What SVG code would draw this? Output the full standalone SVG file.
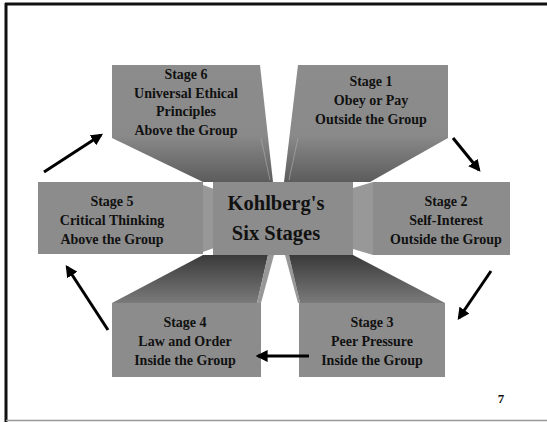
<svg xmlns="http://www.w3.org/2000/svg" width="547" height="422" viewBox="0 0 547 422">
<style>
.face{fill:#8c8c8c}
.side{fill:#989898}
.t{font-family:"Liberation Serif","Times New Roman",serif;font-weight:bold;font-size:14px;fill:#111;text-anchor:middle}
.title{font-size:20.5px}
.arr{stroke:#000;stroke-width:3;fill:none;marker-end:url(#ah)}
</style>
<defs>
<linearGradient id="gDown" x1="0" y1="0" x2="0" y2="1">
<stop offset="0" stop-color="#8c8c8c"/>
<stop offset="0.6" stop-color="#8a8a8a"/>
<stop offset="1" stop-color="#5c5c5c"/>
</linearGradient>
<linearGradient id="gUp" x1="0" y1="0" x2="0" y2="1">
<stop offset="0" stop-color="#3a3a3a"/>
<stop offset="1" stop-color="#7a7a7a"/>
</linearGradient>
<marker id="ah" viewBox="0 0 10 10" refX="8" refY="5" markerWidth="4" markerHeight="4" orient="auto" markerUnits="strokeWidth">
<path d="M0,0 L10,5 L0,10 z" fill="#000"/>
</marker>
</defs>
<rect x="0" y="0" width="547" height="422" fill="#fff"/>
<g id="frame">
<line x1="5" y1="4" x2="547" y2="4" stroke="#111" stroke-width="3"/>
<line x1="6" y1="3" x2="6" y2="422" stroke="#111" stroke-width="3"/>
<line x1="6" y1="420.5" x2="547" y2="420.5" stroke="#999" stroke-width="1.5"/>
</g>
<g id="stage6">
<polygon points="112,65 260,65 273,182 203,182 112,138" fill="url(#gDown)"/>
<line x1="261" y1="138" x2="270" y2="180" stroke="#a8a8a8" stroke-width="0.7"/>
<text class="t" x="186" y="79">Stage 6</text>
<text class="t" x="186" y="98">Universal Ethical</text>
<text class="t" x="186" y="116">Principles</text>
<text class="t" x="186" y="135">Above the Group</text>
</g>
<g id="stage1">
<polygon points="298,65 448,65 448,138 370,182 284,182" fill="url(#gDown)"/>
<line x1="298" y1="138" x2="289" y2="180" stroke="#a8a8a8" stroke-width="0.7"/>
<text class="t" x="371" y="86">Stage 1</text>
<text class="t" x="371" y="105">Obey or Pay</text>
<text class="t" x="371" y="124">Outside the Group</text>
</g>
<g id="stage5">
<polygon class="side" points="203,185 214,189 214,248 203,252"/>
<rect class="face" x="38" y="182" width="165" height="72"/>
<text class="t" x="112" y="206">Stage 5</text>
<text class="t" x="112" y="225">Critical Thinking</text>
<text class="t" x="112" y="244">Above the Group</text>
</g>
<g id="center">
<rect class="face" x="213" y="182" width="140" height="73"/>
<text class="t title" x="276" y="210">Kohlberg's</text>
<text class="t title" x="276" y="240">Six Stages</text>
</g>
<g id="stage2">
<polygon class="side" points="353,188 373,182 373,255 353,249"/>
<rect class="face" x="373" y="182" width="137" height="73"/>
<text class="t" x="446" y="206">Stage 2</text>
<text class="t" x="446" y="225">Self-Interest</text>
<text class="t" x="446" y="244">Outside the Group</text>
</g>
<g id="stage4">
<polygon points="112,303 203,255 268,255 257,303" fill="url(#gUp)"/>
<polygon class="side" points="268,255 274,255 261,303 257,303"/>
<rect class="face" x="112" y="303" width="149" height="74"/>
<text class="t" x="185" y="327">Stage 4</text>
<text class="t" x="185" y="346">Law and Order</text>
<text class="t" x="185" y="365">Inside the Group</text>
</g>
<g id="stage3">
<polygon class="side" points="285,255 289,255 300,303 298,303"/>
<polygon points="289,255 353,255 445,303 300,303" fill="url(#gUp)"/>
<rect class="face" x="299" y="303" width="146" height="74"/>
<text class="t" x="372" y="327">Stage 3</text>
<text class="t" x="372" y="346">Peer Pressure</text>
<text class="t" x="372" y="365">Inside the Group</text>
</g>
<g id="connectors">
<line class="arr" x1="44" y1="172" x2="101" y2="135"/>
<line class="arr" x1="453" y1="138" x2="479" y2="170"/>
<line class="arr" x1="491" y1="271" x2="459" y2="318"/>
<line class="arr" x1="309" y1="356" x2="258" y2="356"/>
<line class="arr" x1="108" y1="330" x2="67" y2="267"/>
</g>
<text class="t" x="501" y="403" style="font-size:13px">7</text>
</svg>
